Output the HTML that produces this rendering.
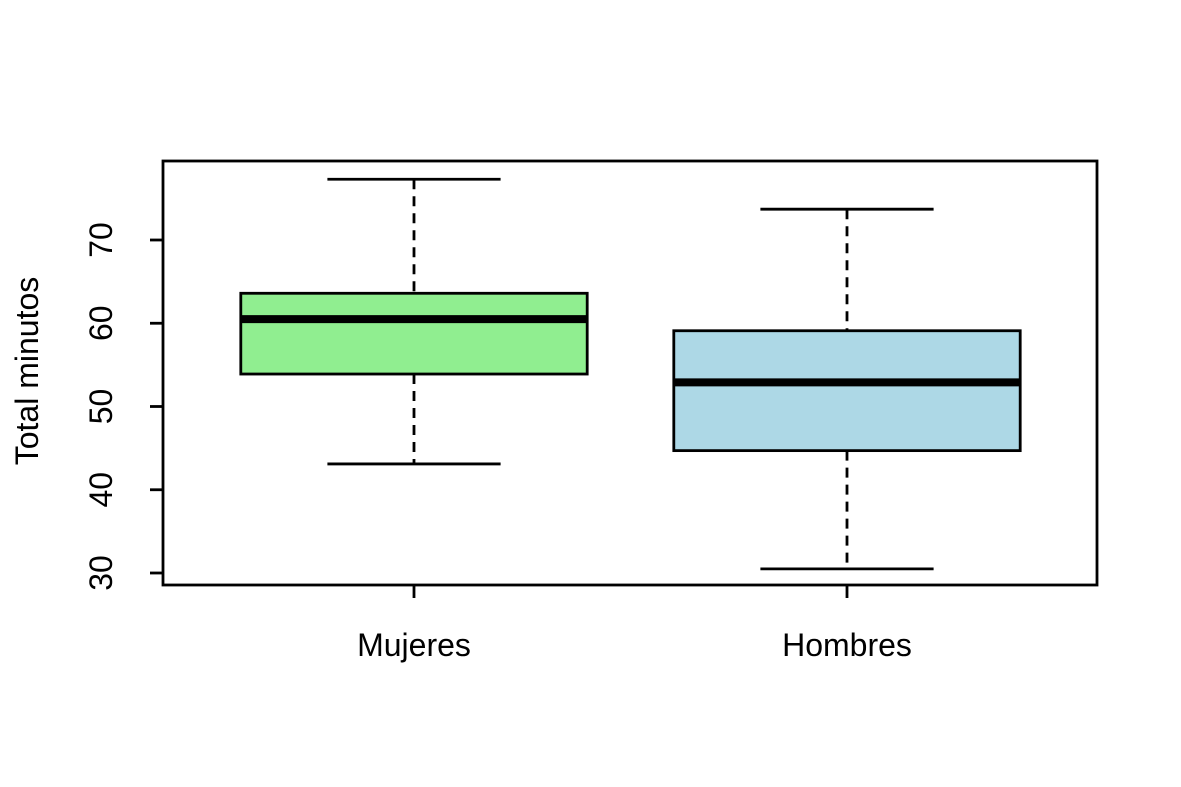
<!DOCTYPE html>
<html><head><meta charset="utf-8"><style>body{margin:0;background:#fff}svg{display:block}text{font-family:"Liberation Sans",Arial,sans-serif;fill:#000}</style></head>
<body>
<svg id="chart" width="1181" height="787" viewBox="0 0 1181 787" xmlns="http://www.w3.org/2000/svg">
<rect x="0" y="0" width="1181" height="787" fill="#fff"/>
</svg>
<script>
const categories = ["Mujeres", "Hombres"];
const colors = ["#90ee90", "#add8e6"];
const lowerWhisker = [43.1, 30.5];
const q1 = [53.9, 44.7];
const median = [60.5, 52.9];
const q3 = [63.6, 59.1];
const upperWhisker = [77.3, 73.7];
const yTicks = [30, 40, 50, 60, 70];

const svg = document.getElementById('chart');
const NS = 'http://www.w3.org/2000/svg';
const plot = {l:163, r:1097, t:161, b:585};
const y = v => 573 - (v - 30) * 8.325;
const x = i => 414 + i * 433;
const bandW = 433;
const SW = 2.8;
function el(tag, attrs, parent) {
  const e = document.createElementNS(NS, tag);
  for (const k in attrs) e.setAttribute(k, attrs[k]);
  (parent || svg).appendChild(e);
  return e;
}
categories.forEach((c, i) => {
  const g = el('g', {});
  
  
  const cx = x(i), hw = bandW * 0.4, cw = bandW * 0.2;
  el('line', {x1:cx, x2:cx, y1:y(upperWhisker[i]), y2:y(q3[i]), stroke:'#000', 'stroke-width':SW, 'stroke-dasharray':'10,7'}, g);
  el('line', {x1:cx, x2:cx, y1:y(q1[i]), y2:y(lowerWhisker[i]), stroke:'#000', 'stroke-width':SW, 'stroke-dasharray':'10,7'}, g);
  el('line', {x1:cx-cw, x2:cx+cw, y1:y(upperWhisker[i]), y2:y(upperWhisker[i]), stroke:'#000', 'stroke-width':SW}, g);
  el('line', {x1:cx-cw, x2:cx+cw, y1:y(lowerWhisker[i]), y2:y(lowerWhisker[i]), stroke:'#000', 'stroke-width':SW}, g);
  el('rect', {x:cx-hw, y:y(q3[i]), width:2*hw, height:y(q1[i])-y(q3[i]), fill:colors[i], stroke:'#000', 'stroke-width':SW}, g);
  el('line', {x1:cx-hw, x2:cx+hw, y1:y(median[i]), y2:y(median[i]), stroke:'#000', 'stroke-width':8}, g);
  el('line', {x1:cx, x2:cx, y1:plot.b, y2:plot.b+13, stroke:'#000', 'stroke-width':SW}, g);
  const t = el('text', {x:cx, y:656, 'text-anchor':'middle', 'font-size':32}, g);
  t.textContent = c;
  
  
});
const frame = el('rect', {x:plot.l, y:plot.t, width:plot.r-plot.l, height:plot.b-plot.t, fill:'none', stroke:'#000', 'stroke-width':SW});


yTicks.forEach(v => {
  el('line', {x1:plot.l, x2:plot.l-13, y1:y(v), y2:y(v), stroke:'#000', 'stroke-width':SW});
  const t = el('text', {x:0, y:0, transform:`translate(112,${y(v)}) rotate(-90)`, 'text-anchor':'middle', 'font-size':32});
  t.textContent = v;
  
  
});
const yt = el('text', {x:0, y:0, transform:'translate(38,371) rotate(-90)', 'text-anchor':'middle', 'font-size':32});
yt.textContent = 'Total minutos';


</script>
</body></html>
